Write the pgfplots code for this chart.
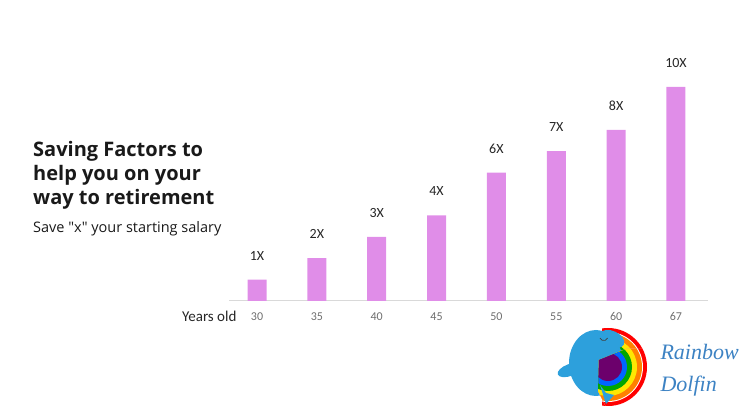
\documentclass[border=0pt]{standalone}
\usepackage{fontspec}
\setmainfont{Carlito}
\newfontfamily\titlefont{Open Sans}
\newfontfamily\logofont{Liberation Serif}
\usepackage{pgfplots}
\pgfplotsset{compat=1.18}
\definecolor{barc}{RGB}{224,141,232}
\definecolor{axc}{RGB}{217,217,217}
\definecolor{tickc}{RGB}{110,110,110}
\definecolor{dolph}{RGB}{45,160,220}
\definecolor{logot}{RGB}{60,130,195}
\begin{document}
\begin{tikzpicture}[x=1pt,y=1pt]
\path[use as bounding box] (0,0) rectangle (742,407);
\begin{axis}[
  at={(229pt,106pt)}, anchor=south west,
  scale only axis, width=479pt, height=214pt,
  xmin=-0.468, xmax=7.535, ymin=0, ymax=10,
  axis x line=bottom, axis y line=none,
  x axis line style={axc, line width=1pt, -},
  clip=false,
  ybar, bar width=19pt,
  /pgf/number format/assume math mode=true,
  xtick=data, xticklabels={30,35,40,45,50,55,60,67},
  major tick length=0pt,
  xticklabel style={text=tickc, font=\fontsize{12}{13}\selectfont, yshift=-8pt},
  ytick=\empty,
  nodes near coords={\pgfmathprintnumber{\pgfplotspointmeta}X},
  nodes near coords style={text=black!85, anchor=center, yshift=24pt, font=\fontsize{14}{15}\selectfont},
]
\addplot[fill=barc, draw=none] coordinates {(0,1) (1,2) (2,3) (3,4) (4,6) (5,7) (6,8) (7,10)};
\end{axis}
\node[anchor=east, font=\fontsize{15}{16}\selectfont, text=black!85] at (240,91) {Years old};
\node[anchor=base west, inner sep=0pt, font=\titlefont\bfseries\fontsize{20}{24}\selectfont, text=black!90] at (33,250) {Saving Factors to};
\node[anchor=base west, inner sep=0pt, font=\titlefont\bfseries\fontsize{20}{24}\selectfont, text=black!90] at (33,226) {help you on your};
\node[anchor=base west, inner sep=0pt, font=\titlefont\bfseries\fontsize{20}{24}\selectfont, text=black!90] at (33,202) {way to retirement};
\node[anchor=base west, inner sep=0pt, font=\titlefont\fontsize{14.5}{16}\selectfont, text=black!90] at (33,174) {Save "x" your starting salary};
% logo
\begin{scope}
\clip (602,0) rectangle (660,90);
\fill[red] (608,40) circle (39);
\fill[white] (608,40) circle (35);
\fill[orange] (608,40) circle (34);
\fill[yellow!90!orange] (608,40) circle (29);
\fill[green!65!black] (608,40) circle (24);
\fill[blue!60!cyan] (608,40) circle (19);
\fill[violet!85!black] (608,40) circle (14);
\end{scope}
\fill[dolph] (596,44) ellipse (27 and 33);
\fill[dolph, rotate around={-25:(612,68)}] (612,68) ellipse (13 and 8);
\fill[dolph, rotate around={20:(570,37)}] (570,37) ellipse (13 and 6);
\begin{scope}
\clip (599,47) -- (626,58) -- (660,58) -- (660,0) -- (606,0) -- (598,16) -- cycle;
\fill[white] (560,0) rectangle (660,90);
\fill[red] (608,40) circle (39);
\fill[white] (608,40) circle (35);
\fill[orange] (608,40) circle (34);
\fill[yellow!90!orange] (608,40) circle (29);
\fill[green!65!black] (608,40) circle (24);
\fill[blue!60!cyan] (608,40) circle (19);
\fill[violet!85!black] (608,40) circle (14);
\end{scope}
\fill[dolph] (600,22) -- (606,3) -- (614,12) -- (606,14) -- cycle;
\draw[black!75, line width=0.7pt] (600,69) arc (200:340:4);
\node[anchor=west, text=logot, font=\logofont\itshape\fontsize{22}{24}\selectfont] at (657,55) {Rainbow};
\node[anchor=west, text=logot, font=\logofont\itshape\fontsize{22}{24}\selectfont] at (657,21) {Dolfin};
\end{tikzpicture}
\end{document}
